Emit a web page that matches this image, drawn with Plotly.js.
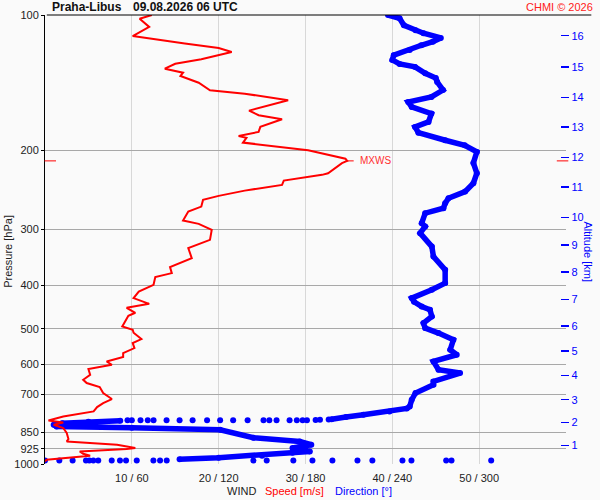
<!DOCTYPE html>
<html><head><meta charset="utf-8">
<script src="https://cdn.plot.ly/plotly-3.0.1.min.js"></script>
<style>html,body{margin:0;padding:0;background:#fafafa;}</style>
</head><body><div id="chart" style="width:600px;height:500px;"></div>
<script>
// ---- Wind speed profile (m/s) vs pressure (hPa)
const speedPressure = [100, 101.9, 106.3, 111.4, 115.8, 118.4, 120.9, 125.5, 128.4, 131.7,
  134.4, 136.7, 141.5, 147.1, 149.7, 154.8, 163.3, 167.2, 170.7, 177.5,
  182.1, 185.9, 187.8, 192.4, 200.0, 208.9, 211.3, 213.8, 225.1, 227.0,
  233.8, 239.0, 246.1, 252.8, 258.1, 267.1, 274.0, 287.0, 291.9, 301.0,
  316.8, 330.6, 347.9, 364.4, 375.7, 383.5, 399.0, 412.9, 427.1, 439.8,
  448.9, 460.5, 467.7, 494.0, 502.4, 510.2, 527.0, 537.9, 551.8, 566.2,
  577.9, 591.1, 601.2, 614.5, 632.7, 649.2, 660.2, 673.9, 694.9, 716.7,
  731.6, 746.7, 763.7, 783.5, 799.7, 808.0, 817.6, 831.5, 853.1, 879.7,
  890.6, 905.8, 921.2, 926.0, 937.5, 948.6, 958.3, 969.7, 978.2, 986.7];
const speedValues = [12.3, 10.9, 12.0, 10.1, 16.1, 20.0, 21.5, 18.0, 15.0, 13.8,
  15.9, 15.6, 17.7, 19.0, 23.0, 28.0, 23.5, 24.6, 27.3, 24.8,
  24.6, 22.3, 23.2, 22.8, 30.3, 34.6, 34.8, 34.2, 32.6, 31.9,
  27.5, 27.3, 23.0, 20.0, 18.2, 18.0, 16.5, 15.9, 17.7, 19.2,
  19.0, 16.5, 16.9, 14.4, 14.6, 12.7, 12.5, 10.8, 10.2, 12.0,
  9.4, 10.4, 9.6, 8.9, 10.1, 10.2, 11.1, 10.1, 10.3, 9.0,
  9.0, 7.1, 7.7, 5.0, 5.2, 4.4, 4.8, 6.3, 6.7, 7.7,
  6.7, 6.0, 5.6, 2.1, 0.4, 2.1, 1.0, 2.1, 2.5, 2.7,
  2.5, 8.3, 10.4, 9.4, 4.0, 4.4, 5.2, 2.5, 0.2, 0.0];

// ---- Wind direction (deg) vs pressure (hPa)
const dirUpperPressure = [100, 101.7, 105.4, 108.2, 109.8, 112.5, 114.7, 116.8, 119.6, 122.9,
  125.9, 128.5, 130.5, 134.8, 138.1, 141.0, 146.9, 152.2, 156.2, 160.2,
  165.8, 173.0, 177.5, 182.8, 190.1, 195.0, 201.8, 213.5, 225.1, 236.9,
  247.3, 255.8, 262.5, 269.3, 276.3, 290.8, 295.9, 306.1, 327.9, 345.1,
  369.5, 395.5, 409.3, 427.1, 435.3, 445.9, 453.5, 469.4, 485.5, 498.1,
  511.0, 528.9, 556.7, 571.1, 591.1, 616.8, 627.3, 654.9, 666.0, 694.9,
  719.2, 744.4, 752.0, 763.7, 776.7, 785.9, 794.9];
const dirUpperValues = [237, 245, 248, 256, 261.5, 273.5, 268, 260, 252, 241,
  240, 245, 255.7, 262.7, 270, 271, 275, 267, 251, 253.4,
  267, 265, 255.7, 258, 276.5, 290, 298.4, 296, 298.4, 296,
  290.3, 278.8, 276.5, 275.3, 262.7, 260.3, 262.7, 259.2, 267.3, 268.4,
  276.5, 276.5, 267.3, 253.4, 255, 260.3, 266, 267.3, 261.5, 262.7,
  271.9, 282.2, 280, 284.5, 268.4, 271.9, 286.8, 268.4, 268.4, 256,
  253.4, 252, 250, 238, 220, 208, 198];
const dirJumpPressure = [796, 797, 798, 798.9, 798.9, 798.9, 798.9, 798.9, 798.9, 798.9, 798.9,
  798.9, 798.9, 798.9, 798.9, 798.9, 798.9, 798.9, 798.9, 798.9, 798.9, 798.9];
const dirJumpValues = [196, 190, 187, 181, 178, 174, 169, 160, 155, 151, 140,
  130, 121, 112, 102, 93, 84, 75, 71, 66, 60, 57];
const dirLowerPressure = [801.0, 805.1, 811.3, 817.6, 824.7, 830.2, 838.8, 873.9, 890.6, 905.8,
  921.2, 937.5, 943.7, 958.0, 968.0, 976.0];
const dirLowerValues = [52, 30, 12, 6, 8, 60, 121, 144, 176, 184,
  171, 183, 171, 150, 120, 93];
const dirSurfacePressure = [981.7, 981.7, 981.7, 981.7, 981.7, 981.7, 981.7, 981.7, 981.7, 981.7,
  981.7, 981.7, 981.7, 981.7, 981.7, 981.7, 981.7, 981.7, 981.7, 981.7,
  981.7, 981.7, 981.7, 981.7, 981.7, 981.7];
const dirSurfaceValues = [0, 9.9, 19.1, 28.3, 30.6, 33.4, 36.8, 46.1, 51.8, 56,
  63.4, 74.9, 79.5, 84.1, 144, 153.2, 171.6, 184.8, 198.6, 215.9,
  226.2, 247, 253.2, 277.2, 280.9, 308.3];

// ---- Axes ticks
const pressureTicks = [100, 200, 300, 400, 500, 600, 700, 850, 925, 1000];
const pressureTickLabels = ['100', '200', '300', '400', '500', '600', '700', '850', '925', '1000'];
const windTicks = [0, 10, 20, 30, 40, 50, 60];
const windTickLabels = ['', '10 / 60', '20 / 120', '30 / 180', '40 / 240', '50 / 300', ''];
const altitudeTickPressures = [909, 808, 719, 635, 560.6, 493, 430, 373.8, 325.5, 282.6, 241.8, 207.4, 177.8, 152.5, 130.5, 111.2];
const altitudeTickLabels = ['1','2','3','4','5','6','7','8','9','10','11','12','13','14','15','16'];

const DIR_SCALE = 6; // direction plotted on speed axis: 10 m/s == 60 deg
const toAxis = arr => arr.map(d => d / DIR_SCALE);

const BLUE = '#0000ff', RED = '#ff0000';
const traces = [
  {x: toAxis(dirUpperValues), y: dirUpperPressure, mode: 'lines+markers', line: {color: BLUE, width: 5.5}, marker: {color: BLUE, size: 6}, hoverinfo: 'skip'},
  {x: toAxis(dirJumpValues), y: dirJumpPressure, mode: 'markers', marker: {color: BLUE, size: 6}, hoverinfo: 'skip'},
  {x: toAxis(dirLowerValues), y: dirLowerPressure, mode: 'lines+markers', line: {color: BLUE, width: 5.5}, marker: {color: BLUE, size: 6}, hoverinfo: 'skip'},
  {x: toAxis(dirSurfaceValues), y: dirSurfacePressure, mode: 'markers', marker: {color: BLUE, size: 6}, hoverinfo: 'skip'},
  {x: speedValues, y: speedPressure, mode: 'lines', line: {color: RED, width: 2}, hoverinfo: 'skip'},
  {x: [null], y: [null], yaxis: 'y2', mode: 'markers', hoverinfo: 'skip'}
];

// max wind (MXWS)
let mi = 0;
speedValues.forEach((v, i) => { if (v > speedValues[mi]) mi = i; });
const maxS = speedValues[mi], maxP = speedPressure[mi];

const W = 600, H = 500, L = 45, R = 34.3, T = 15, B = 35.7;
const pw = W - L - R, ph = H - T - B;
const px = x => (x - L) / pw;
const py = y => (H - B - y) / ph;

// horizontal rule drawn as an arrowless annotation line (tail -> head)
const hRule = (xref, xEnd, yref, yVal, lenPx, color) => ({text: '', xref: xref, yref: yref, x: xEnd, y: yVal, ax: -lenPx, ay: 0,
  showarrow: true, arrowhead: 0, arrowwidth: 1, arrowcolor: color, standoff: 0, startstandoff: 0});

const FONT = 'Liberation Sans, Arial, sans-serif';
const layout = {
  width: W, height: H,
  margin: {l: L, r: R, t: T, b: B, pad: 0},
  paper_bgcolor: '#fafafa', plot_bgcolor: '#fafafa',
  showlegend: false,
  font: {family: FONT, size: 11, color: '#222'},
  xaxis: {range: [0, 60], tickvals: windTicks, ticktext: windTickLabels, showgrid: true, gridcolor: '#d8d8d8', gridwidth: 1,
    zeroline: false, showline: false, ticks: 'outside', ticklen: 4, tickcolor: 'rgba(0,0,0,0)', tickfont: {size: 11, color: '#222'}, fixedrange: true},
  yaxis: {type: 'log', range: [3, 2], tickvals: pressureTicks, ticktext: pressureTickLabels, showgrid: true, gridcolor: '#a8a8a8', gridwidth: 1,
    showline: true, linecolor: '#000', linewidth: 1, ticks: 'outside', ticklen: 3, tickcolor: '#000', zeroline: false,
    tickfont: {size: 11, color: '#222'}, fixedrange: true},
  yaxis2: {type: 'log', range: [3, 2], overlaying: 'y', side: 'right', anchor: 'free', position: px(560),
    tickvals: altitudeTickPressures, ticktext: altitudeTickLabels, ticks: 'outside', ticklen: 8, tickwidth: 1.5, tickcolor: BLUE,
    tickfont: {size: 11, color: BLUE}, showgrid: false, showline: false, zeroline: false, fixedrange: true, automargin: false},
  annotations: [
    hRule('paper', px(591), 'paper', 1, 591 - L, '#000'),
    hRule('paper', px(56), 'y', Math.log10(maxP), 13, RED),
    hRule('paper', px(568), 'y', Math.log10(maxP), 13, RED),
    {text: '', xref: 'x', yref: 'y', x: maxS, y: Math.log10(maxP), ax: 8, ay: 0, showarrow: true, arrowhead: 0, arrowwidth: 1, arrowcolor: RED, standoff: 0, startstandoff: 0},
    {text: '<b>Praha-Libus</b>', xref: 'paper', yref: 'paper', x: px(50), y: py(7), xanchor: 'left', yanchor: 'middle', showarrow: false, font: {size: 12, color: '#111'}},
    {text: '<b>09.08.2026 06 UTC</b>', xref: 'paper', yref: 'paper', x: px(131), y: py(7), xanchor: 'left', yanchor: 'middle', showarrow: false, font: {size: 12, color: '#111'}},
    {text: 'CHMI © 2026', xref: 'paper', yref: 'paper', x: px(595), y: py(7), xanchor: 'right', yanchor: 'middle', showarrow: false, font: {size: 11, color: '#ff2020'}},
    {text: 'Pressure [hPa]', xref: 'paper', yref: 'paper', x: px(8), y: py(251), xanchor: 'center', yanchor: 'middle', textangle: -90, showarrow: false, font: {size: 11, color: '#222'}},
    {text: 'Altitude [km]', xref: 'paper', yref: 'paper', x: px(588), y: py(252), xanchor: 'center', yanchor: 'middle', textangle: 90, showarrow: false, font: {size: 11, color: BLUE}},
    {text: 'WIND', xref: 'paper', yref: 'paper', x: px(225), y: py(491), xanchor: 'left', yanchor: 'middle', showarrow: false, font: {size: 11, color: '#222'}},
    {text: 'Speed [m/s]', xref: 'paper', yref: 'paper', x: px(263), y: py(491), xanchor: 'left', yanchor: 'middle', showarrow: false, font: {size: 11, color: RED}},
    {text: 'Direction [°]', xref: 'paper', yref: 'paper', x: px(332.5), y: py(491), xanchor: 'left', yanchor: 'middle', showarrow: false, font: {size: 11, color: BLUE}},
    {text: 'MXWS', xref: 'x', yref: 'y', x: maxS + 1.2, y: Math.log10(maxP), xanchor: 'left', yanchor: 'middle', showarrow: false, font: {size: 10, color: '#ff3030'}}
  ]
};

Plotly.newPlot('chart', traces, layout, {staticPlot: true, displayModeBar: false});
</script></body></html>
